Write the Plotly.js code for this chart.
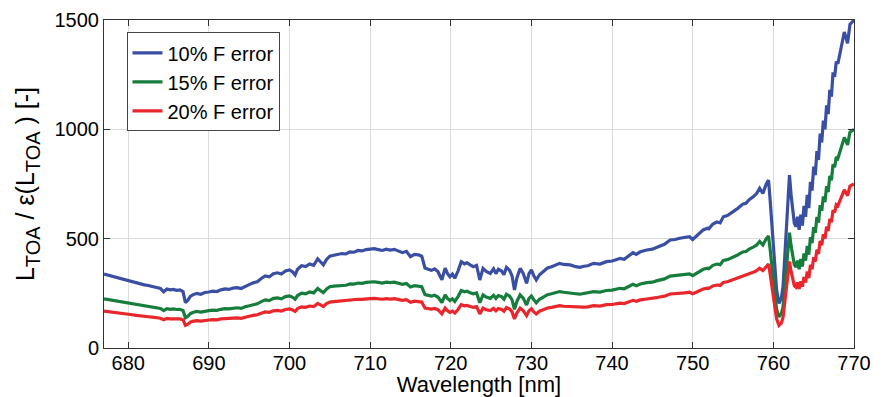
<!DOCTYPE html>
<html>
<head>
<meta charset="utf-8">
<script src="https://cdn.plot.ly/plotly-3.0.1.min.js"></script>
<style>html,body{margin:0;padding:0;background:#fff;}#chart{width:885px;height:397px;}</style>
</head>
<body>
<div id="chart"></div>
<script>
const wavelength = [677.0,677.5,678.0,678.5,679.0,679.5,680.0,680.5,681.0,681.5,682.0,682.5,683.0,683.5,684.0,684.4,684.8,685.2,685.6,686.0,686.4,686.8,687.1,687.4,687.7,688.0,688.5,689.0,689.5,690.0,690.5,691.0,691.5,692.0,692.5,693.0,693.5,694.0,694.5,695.0,695.5,696.0,696.5,697.0,697.5,698.0,698.5,699.0,699.5,700.0,700.4,700.7,701.0,701.5,702.0,702.5,703.0,703.5,703.9,704.2,704.6,705.0,705.5,706.0,706.5,707.0,707.5,708.0,708.5,709.0,709.5,710.0,710.5,711.0,711.5,712.0,712.5,713.0,713.5,714.0,714.5,715.0,715.5,716.0,716.4,716.8,717.2,717.6,718.0,718.4,718.9,719.3,719.6,719.9,720.2,720.5,720.9,721.3,721.7,722.0,722.4,722.8,723.2,723.6,724.0,724.4,724.9,725.3,725.6,725.9,726.3,726.6,726.9,727.3,727.6,727.9,728.2,728.6,729.0,729.4,729.7,730.0,730.3,730.6,731.0,731.5,732.0,732.5,733.0,733.5,734.0,734.8,735.5,736.0,736.5,737.0,737.7,738.5,739.3,740.0,740.5,741.0,741.5,742.0,742.6,743.0,743.5,744.3,745.0,745.5,745.9,746.5,747.2,747.8,748.4,749.0,749.6,750.0,750.5,751.0,751.3,751.8,752.0,752.5,753.0,753.4,753.8,754.3,755.0,755.5,756.0,756.2,756.6,757.0,757.5,757.9,758.3,758.7,759.1,759.4,759.6,760.0,760.4,760.7,761.0,761.2,761.6,762.0,762.2,762.4,762.6,762.8,763.0,763.2,763.4,763.6,763.8,764.0,764.2,764.4,764.6,764.8,765.0,765.2,765.4,765.6,765.8,766.0,766.2,766.4,766.6,766.8,767.0,767.2,767.4,767.6,767.8,768.0,768.2,768.5,768.8,769.0,769.2,769.5,770.0];

const err10 = [338,333,328,322,316,312,308,303,298,292,289,286,282,278,272,257,270,266,268,264,266,258,207,218,236,243,250,246,254,256,260,258,266,270,268,274,276,272,283,290,298,303,318,330,326,340,344,338,352,357,348,334,360,376,372,384,378,408,392,380,405,420,424,428,432,430,440,438,446,444,450,452,454,450,446,452,448,451,444,436,442,418,428,426,420,366,360,355,362,350,312,365,340,326,338,319,352,395,385,390,380,372,378,311,364,350,341,362,340,360,352,335,369,355,330,265,320,364,340,296,340,357,330,311,335,349,366,372,380,387,382,380,372,369,374,376,387,384,395,398,404,410,406,420,436,428,440,448,452,460,466,474,494,496,502,504,509,496,512,530,540,548,545,567,576,572,600,606,623,636,652,658,662,678,692,705,730,707,748,768,677,448,265,204,230,280,524,791,700,616,570,555,600,540,610,560,650,600,700,640,760,720,830,790,900,860,980,940,1040,1000,1110,1070,1180,1150,1260,1240,1310,1300,1340,1400,1445,1420,1393,1480,1500];

const err15 = [225,222,219,215,211,208,205,202,199,195,193,191,188,185,181,171,180,177,179,176,177,172,138,145,157,162,167,164,169,171,173,172,177,180,179,183,184,181,189,193,199,202,212,220,217,227,229,225,235,238,232,223,240,251,248,256,252,272,261,253,270,280,283,285,288,287,293,292,297,296,300,301,303,300,297,301,299,301,296,291,295,279,285,284,280,244,240,237,241,233,208,243,227,217,225,213,235,263,257,260,253,248,252,207,243,233,227,241,227,240,235,223,246,237,220,177,213,243,227,197,227,238,220,207,223,233,244,248,253,258,255,253,248,246,249,251,258,256,263,265,269,273,271,280,291,285,293,299,301,307,311,316,329,331,335,336,339,331,341,353,360,365,363,378,384,381,400,404,415,424,435,439,441,452,461,470,487,471,499,512,451,299,177,142,158,187,349,527,467,411,380,370,400,360,407,373,433,400,467,427,507,480,553,527,600,573,653,627,693,667,740,713,787,767,840,827,873,867,893,933,963,947,929,987,1000];

const err20 = [169,167,164,161,158,156,154,152,149,146,145,143,141,139,136,129,135,133,134,132,133,129,104,109,118,122,125,123,127,128,130,129,133,135,134,137,138,136,142,145,149,152,159,165,163,170,172,169,176,179,174,167,180,188,186,192,189,204,196,190,203,210,212,214,216,215,220,219,223,222,225,226,227,225,223,226,224,226,222,218,221,209,214,213,210,183,180,178,181,175,156,183,170,163,169,160,176,198,193,195,190,186,189,156,182,175,171,181,170,180,176,168,185,178,165,133,160,182,170,148,170,179,165,156,168,175,183,186,190,194,191,190,186,185,187,188,194,192,198,199,202,205,203,210,218,214,220,224,226,230,233,237,247,248,251,252,255,248,256,265,270,274,273,284,288,286,300,303,312,318,326,329,331,339,346,353,365,354,374,384,339,224,133,104,115,140,262,396,350,308,285,278,300,270,305,280,325,300,350,320,380,360,415,395,450,430,490,470,520,500,555,535,590,575,630,620,655,650,670,700,723,710,697,740,750];

const seriesNames = ['10% F error', '15% F error', '20% F error'];
const seriesColors = ['#3a4ea3', '#177d3c', '#e8262b'];
const xTicks = [680,690,700,710,720,730,740,750,760,770];
const yTicks = [0,500,1000,1500];

const FONT = '"Liberation Sans", Arial, Helvetica, sans-serif';
const ys = [err10, err15, err20];
const traces = ys.map((y, i) => ({
  x: wavelength, y: y, type: 'scatter', mode: 'lines', name: seriesNames[i],
  line: {color: seriesColors[i], width: 3.2}
}));

const axisCommon = {
  showline: true, linecolor: '#333', linewidth: 1, mirror: 'ticks',
  ticks: 'inside', ticklen: 6, tickcolor: '#333', tickwidth: 1,
  showgrid: true, gridcolor: '#dcdcdc', gridwidth: 1, zeroline: false,
  tickfont: {family: FONT, size: 20, color: '#000'}
};

const SUB = '<sub><span style="font-size:20px">TOA</span></sub>';

const layout = {
  width: 885, height: 397,
  margin: {l: 104, r: 31, t: 20, b: 49},
  paper_bgcolor: '#fff', plot_bgcolor: '#fff',
  font: {family: FONT, color: '#000'},
  showlegend: true,
  legend: {
    x: 0.030, y: 0.962, xanchor: 'left', yanchor: 'top',
    bgcolor: '#fff', bordercolor: '#444', borderwidth: 1,
    font: {family: FONT, size: 20, color: '#000'},
    tracegroupgap: 0
  },
  xaxis: Object.assign({}, axisCommon, {
    range: [677, 770], tickvals: xTicks, ticktext: xTicks.map(String),
    ticklabelstandoff: -3,
    title: {text: 'Wavelength [nm]', font: {family: FONT, size: 22, color: '#000'}, standoff: 0}
  }),
  yaxis: Object.assign({}, axisCommon, {
    range: [0, 1500], tickvals: yTicks, ticktext: yTicks.map(String),
    title: {text: 'L' + SUB + ' / ε(L' + SUB + ' ) [-]', font: {family: FONT, size: 25, color: '#000'}, standoff: 12}
  })
};

Plotly.newPlot('chart', traces, layout, {displayModeBar: false, staticPlot: true});
</script>
</body>
</html>
